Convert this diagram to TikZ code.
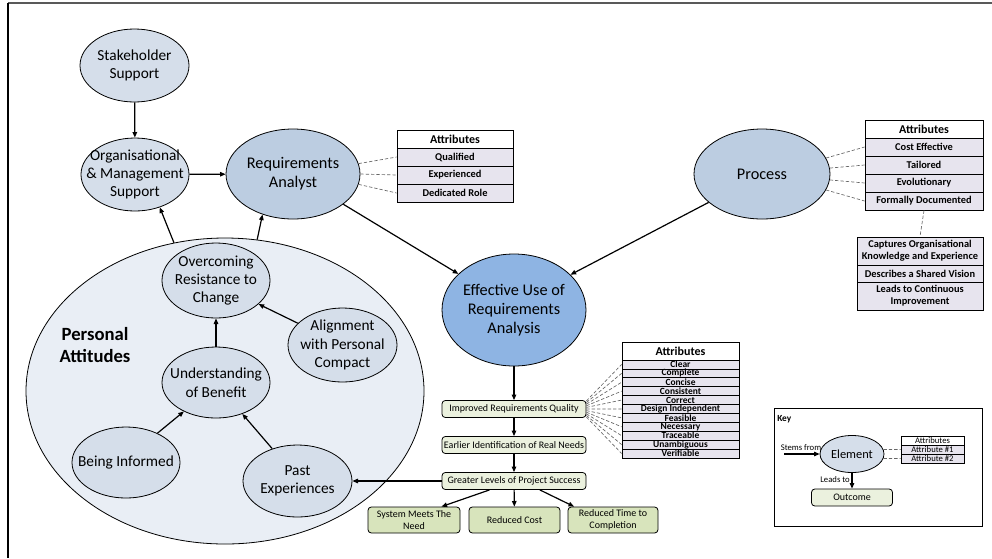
\documentclass[tikz,border=0pt]{standalone}
\usepackage{fontspec}
\setmainfont{Carlito}
\usetikzlibrary{shapes.geometric,arrows.meta,calc}
\definecolor{ellA}{HTML}{D5DEEA}
\definecolor{ellB}{HTML}{BCCDE1}
\definecolor{effc}{HTML}{8EB4E3}
\definecolor{pafill}{HTML}{E9EEF5}
\definecolor{rowfill}{HTML}{E7E4EE}
\definecolor{greenA}{HTML}{EBF1DE}
\definecolor{greenB}{HTML}{D8E4BC}
\newcommand{\myfs}[2]{\fontsize{#1}{#2}\selectfont}
\begin{document}
\begin{tikzpicture}[x=0.75pt,y=-0.75pt,
  ell/.style={ellipse, draw=black, line width=0.6pt, inner sep=0pt},
  etxt/.style={align=center, inner sep=0pt, font=\myfs{11.5}{13.8}},
  btxt/.style={align=center, inner sep=0pt, font=\myfs{12.2}{14.2}},
  arr/.style={-{Triangle[length=4.2pt,width=3.4pt]}, line width=0.9pt},
  dsh/.style={dash pattern=on 2.5pt off 1.5pt, draw=black!60, line width=0.5pt},
  ahead/.style={draw, line width=0.6pt, fill=white, font=\bfseries\myfs{9}{10}, inner sep=0pt, minimum height=13.5pt},
  arow/.style={draw, line width=0.6pt, fill=rowfill, font=\bfseries\myfs{7.8}{9}, inner sep=0pt, minimum height=13.5pt, align=center},
  qrow/.style={draw, line width=0.6pt, fill=rowfill, font=\bfseries\myfs{7.1}{7.5}, inner sep=0pt, minimum width=87.75pt, minimum height=6.675pt},
  outc/.style={draw, line width=0.6pt, rounded corners=2.5pt, fill=greenA, font=\myfs{7.5}{9}, inner sep=0pt, minimum width=108pt, minimum height=12.75pt, align=center},
  outb/.style={draw, line width=0.6pt, rounded corners=2.5pt, fill=greenB, font=\myfs{7.5}{9}, inner sep=0pt, minimum height=19.5pt, align=center},
  ktxt/.style={inner sep=0pt, font=\myfs{6.5}{7.5}}
]
\useasboundingbox (0,0) rectangle (992,558);
% frame
\coordinate (fa) at (8,3);
\coordinate (fb) at (992,3);
\coordinate (fc) at (8,558);
\draw[line width=1.2pt, black!65] (fa) -- (fb);
\draw[line width=0.8pt] (fa) -- (fc);

% big personal attitudes ellipse
\node[ell, fill=pafill, minimum width=298.5pt, minimum height=229.5pt] (pa) at (225,391) {};
\node[inner sep=0pt, align=center, font=\bfseries\myfs{14}{16.5}] (pat) at (95,345) {Personal\\Attitudes};

% top ellipses
\node[ell, fill=ellA, minimum width=81.75pt, minimum height=54.75pt] (sh) at (134.5,65.5) {};
\node[etxt] (sht) at (sh) {Stakeholder\\Support};
\node[ell, fill=ellA, minimum width=81pt, minimum height=54.75pt] (org) at (135,174.5) {};
\node[etxt] (orgt) at (org) {Organisational\\\& Management\\Support};
\node[ell, fill=ellB, minimum width=100.5pt, minimum height=67.5pt] (ra) at (293,174) {};
\node[btxt] (rat) at (ra) {Requirements\\Analyst};
\node[ell, fill=ellB, minimum width=102pt, minimum height=67.5pt] (proc) at (762,174) {};
\node[btxt] (proct) at (proc) {Process};
\node[ell, fill=effc, minimum width=108pt, minimum height=84pt] (eff) at (514,310) {};
\node[btxt] (efft) at (eff) {Effective Use of\\Requirements\\Analysis};

% inner ellipses
\node[ell, fill=ellA, minimum width=81pt, minimum height=56.25pt] (orc) at (216,280.5) {};
\node[etxt] (orct) at (orc) {Overcoming\\Resistance to\\Change};
\node[ell, fill=ellA, minimum width=81pt, minimum height=53.25pt] (ub) at (216,382.5) {};
\node[etxt, font=\myfs{11.5}{14.5}] (ubt) at (ub) {Understanding\\of Benefit};
\node[ell, fill=ellA, minimum width=81.75pt, minimum height=55.5pt] (al) at (342.5,345) {};
\node[etxt] (alt) at (al) {Alignment\\with Personal\\Compact};
\node[ell, fill=ellA, minimum width=81pt, minimum height=53.25pt] (bi) at (126,462.5) {};
\node[etxt] (bit) at (bi) {Being Informed};
\node[ell, fill=ellA, minimum width=81.75pt, minimum height=54pt] (pe) at (297.5,481) {};
\node[etxt] (pet) at (pe) {Past\\Experiences};

% RA attributes
\node[ahead, minimum width=87pt] (rah) at (455,139) {Attributes};
\node[arow, minimum width=87pt] (raq) at (455,157) {Qualified};
\node[arow, minimum width=87pt] (rae) at (455,175) {Experienced};
\node[arow, minimum width=87pt] (rad) at (455,193) {Dedicated Role};

% Process attributes
\node[ahead, minimum width=88.5pt] (pch) at (924,129) {Attributes};
\node[arow, minimum width=88.5pt] (pce) at (924,147) {Cost Effective};
\node[arow, minimum width=88.5pt] (pct) at (924,165) {Tailored};
\node[arow, minimum width=88.5pt] (pcv) at (924,183) {Evolutionary};
\node[arow, minimum width=88.5pt] (pfd) at (924,201) {Formally Documented};
\node[arow, minimum width=94.5pt, minimum height=21pt] (pcap) at (920,251) {Captures Organisational\\Knowledge and Experience};
\node[arow, minimum width=94.5pt, minimum height=12.75pt] (pdes) at (920,273.5) {Describes a Shared Vision};
\node[arow, minimum width=94.5pt, minimum height=21pt] (plead) at (920,296) {Leads to Continuous\\Improvement};

% outcome boxes
\node[outc] (irq) at (514,409) {Improved Requirements Quality};
\node[outc] (ern) at (514,445) {Earlier Identification of Real Needs};
\node[outc] (gl) at (514,481) {Greater Levels of Project Success};
\node[outb, minimum width=69pt] (smn) at (414,520) {System Meets The\\Need};
\node[outb, minimum width=68.25pt] (rc) at (514.5,520) {Reduced Cost};
\node[outb, minimum width=67.5pt] (rt) at (613,520) {Reduced Time to\\Completion};

% quality attributes
\node[ahead, minimum width=87.75pt] (qh) at (680.5,351) {Attributes};
\foreach \t [count=\i] in {Clear,Complete,Concise,Consistent,Correct,Design Independent,Feasible,Necessary,Traceable,Unambiguous,Verifiable}
  \node[qrow] (q\i) at (680.5,{360+8.9*(\i-0.5)}) {\t};

% arrows
\draw[arr] (sh) -- (org);
\draw[arr] (org) -- (ra);
\draw[arr] (pa.109.3) -- (org.-53.3);
\draw[arr] (pa.78.2) -- (ra.233);
\draw[arr] (ra.-31.3) -- (eff.147.5);
\draw[arr] (proc.208.7) -- (eff.32.8);
\draw[arr] (eff) -- (irq);
\draw[arr] (irq) -- (ern);
\draw[arr] (ern) -- (gl);
\draw[arr] (gl.west) -- (pe.east);
\draw[arr] (gl.-160) -- (smn.26.6);
\draw[arr] (gl) -- (rc);
\draw[arr] (gl.-19.2) -- (rt.161.1);
\draw[arr] (ub) -- (orc);
\draw[arr] (al.154) -- (orc.-29.6);
\draw[arr] (bi.43) -- (ub.222);
\draw[arr] (pe.128) -- (ub.-50);

% dashed attribute links
\draw[dsh] (ra.9) -- (raq.west);
\draw[dsh] (ra.0) -- (rae.west);
\draw[dsh] (ra.-9) -- (rad.west);
\draw[dsh] (proc.14.7) -- (pce.west);
\draw[dsh] (proc.5) -- (pct.west);
\draw[dsh] (proc.-5) -- (pcv.west);
\draw[dsh] (proc.-14.7) -- (pfd.west);
\draw[dsh] (pfd.south) -- (pcap.north);
\foreach \i in {1,...,11}
  \draw[dsh] ($(irq.north east)!{(\i-0.5)/11}!(irq.south east)$) -- (q\i.west);

% key
\node[draw, line width=0.6pt, minimum width=156pt, minimum height=88.5pt, inner sep=0pt] (keybox) at (878,467) {};
\node[inner sep=0pt, anchor=west, font=\bfseries\myfs{7}{8}] (keyt) at (777,419) {Key};
\node[ell, fill=ellA, minimum width=48pt, minimum height=27.75pt] (kel) at (852,454) {};
\node[inner sep=0pt, font=\myfs{9.3}{11}] (kelt) at (kel) {Element};
\coordinate (ks) at (784,454);
\draw[arr] (ks) -- (kel.west);
\node[ktxt] (kst) at (801,447.5) {Stems from};
\node[draw, line width=0.5pt, fill=white, ktxt, minimum width=47.25pt, minimum height=6.75pt] (kah) at (932.5,440.5) {Attributes};
\node[draw, line width=0.5pt, fill=rowfill, ktxt, minimum width=47.25pt, minimum height=6.75pt] (ka1) at (932.5,449.5) {Attribute \#1};
\node[draw, line width=0.5pt, fill=rowfill, ktxt, minimum width=47.25pt, minimum height=6.75pt] (ka2) at (932.5,458.5) {Attribute \#2};
\draw[dsh] (kel.8) -- (ka1.west);
\draw[dsh] (kel.-8) -- (ka2.west);
\node[outc, minimum width=60.75pt, minimum height=12.75pt, font=\myfs{7.5}{9}] (kout) at (852,497.5) {Outcome};
\draw[arr] (kel) -- (kout);
\node[ktxt, anchor=east] (klt) at (850,480) {Leads to};
\end{tikzpicture}
\end{document}
